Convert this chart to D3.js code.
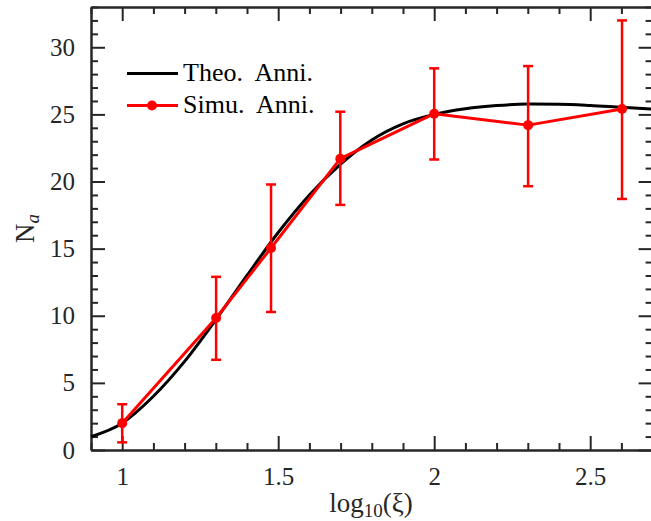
<!DOCTYPE html>
<html>
<head>
<meta charset="utf-8">
<script src="https://cdn.jsdelivr.net/npm/d3@7"></script>
<style>
  html, body { margin: 0; padding: 0; background: #fff; }
  svg { display: block; }
</style>
</head>
<body>
<svg id="chart" width="651" height="521"></svg>
<script>
// Theoretical annihilation count, sampled every 0.1 in log10(xi)
const theoX = [0.9, 1.0, 1.1, 1.2, 1.3, 1.4, 1.5, 1.6, 1.7, 1.8, 1.9, 2.0, 2.1, 2.2, 2.3, 2.4, 2.5, 2.6, 2.7];
const theoY = [1.0, 2.0, 4.0, 6.6, 9.7, 13.0, 16.2, 19.0, 21.3, 23.1, 24.3, 25.0, 25.42, 25.66, 25.77, 25.76, 25.67, 25.53, 25.4];

// Simulated annihilation count with error bars
const simX = [1.0, 1.301, 1.477, 1.699, 2.0, 2.301, 2.602];
const simY = [2.0, 9.83, 15.05, 21.7, 25.05, 24.2, 25.4];
const simLow = [0.57, 6.72, 10.28, 18.26, 21.64, 19.65, 18.7];
const simHigh = [3.41, 12.9, 19.78, 25.2, 28.43, 28.6, 32.0];

const xTicks = [1, 1.5, 2, 2.5];
const xTickLabels = ["1", "1.5", "2", "2.5"];
const yTicks = [0, 5, 10, 15, 20, 25, 30];
const legendLabels = ["Theo.  Anni.", "Simu.  Anni."];

const axisColor = "#262626";
const serif = "'Liberation Serif', 'Times New Roman', serif";
const plotL = 91, plotR = 652.6, plotT = 7, plotB = 450;

const svg = d3.select("#chart");
const x = d3.scaleLinear().domain([0.9, 2.7]).range([plotL, plotR]);
const y = d3.scaleLinear().domain([0, 33]).range([plotB, plotT]);

const xMinor = d3.range(9, 28).map(v => v / 10).filter(v => !xTicks.some(t => Math.abs(t - v) < 1e-9));
const yMinor = d3.range(0, 34).filter(v => v % 5 !== 0);

// axes with inward ticks (major + minor) on all four sides
function styleAxis(g) {
  g.attr("font-family", serif);
  g.select(".domain").attr("stroke", axisColor).attr("stroke-width", 2);
  g.selectAll(".tick line").attr("stroke", axisColor).attr("stroke-width", 2);
  g.selectAll("text").attr("font-size", 25).attr("fill", axisColor).attr("font-family", serif);
}

// bottom
svg.append("g").attr("transform", `translate(0,${plotB})`)
  .call(d3.axisBottom(x).tickValues(xTicks).tickSizeInner(-14).tickSizeOuter(0)
    .tickFormat((d, i) => xTickLabels[i]).tickPadding(17))
  .call(styleAxis);
svg.append("g").attr("transform", `translate(0,${plotB})`)
  .call(d3.axisBottom(x).tickValues(xMinor).tickSizeInner(-7).tickSizeOuter(0).tickFormat(""))
  .call(styleAxis);
// top
svg.append("g").attr("transform", `translate(0,${plotT})`)
  .call(d3.axisTop(x).tickValues(xTicks).tickSizeInner(-14).tickSizeOuter(0).tickFormat(""))
  .call(styleAxis);
svg.append("g").attr("transform", `translate(0,${plotT})`)
  .call(d3.axisTop(x).tickValues(xMinor).tickSizeInner(-7).tickSizeOuter(0).tickFormat(""))
  .call(styleAxis);
// left
svg.append("g").attr("transform", `translate(${plotL},0)`)
  .call(d3.axisLeft(y).tickValues(yTicks).tickSizeInner(-14).tickSizeOuter(0).tickPadding(16))
  .call(styleAxis);
svg.append("g").attr("transform", `translate(${plotL},0)`)
  .call(d3.axisLeft(y).tickValues(yMinor).tickSizeInner(-7).tickSizeOuter(0).tickFormat(""))
  .call(styleAxis);
// right
svg.append("g").attr("transform", `translate(${plotR},0)`)
  .call(d3.axisRight(y).tickValues(yTicks).tickSizeInner(-14).tickSizeOuter(0).tickFormat(""))
  .call(styleAxis);
svg.append("g").attr("transform", `translate(${plotR},0)`)
  .call(d3.axisRight(y).tickValues(yMinor).tickSizeInner(-7).tickSizeOuter(0).tickFormat(""))
  .call(styleAxis);

// axis titles
const xt = svg.append("text").attr("x", (plotL + 651) / 2).attr("y", 512)
  .attr("text-anchor", "middle").attr("font-size", 27)
  .attr("font-family", serif).attr("fill", axisColor);
xt.append("tspan").text("log");
xt.append("tspan").attr("font-size", 19).attr("dy", 5).text("10");
xt.append("tspan").attr("dy", -5).text("(ξ)");

const yt = svg.append("text").attr("transform", `translate(34,${(plotT + plotB) / 2}) rotate(-90)`)
  .attr("text-anchor", "middle").attr("font-size", 27)
  .attr("font-family", serif).attr("fill", axisColor);
yt.append("tspan").text("N");
yt.append("tspan").attr("font-size", 19).attr("font-style", "italic").attr("dy", 5).text("a");

// theoretical curve
const theo = theoX.map((v, i) => [v, theoY[i]]);
svg.append("path").datum(theo)
  .attr("fill", "none").attr("stroke", "#000").attr("stroke-width", 3)
  .attr("stroke-linejoin", "round")
  .attr("d", d3.line().x(d => x(d[0])).y(d => y(d[1])).curve(d3.curveMonotoneX));

// simulated series: error bars, line, markers
const red = "#ff0000";
const sim = simX.map((v, i) => ({ x: v, y: simY[i], lo: simLow[i], hi: simHigh[i] }));
const eb = svg.append("g").attr("stroke", red).attr("stroke-width", 2.5);
eb.selectAll(".v").data(sim).join("line")
  .attr("x1", d => x(d.x)).attr("x2", d => x(d.x))
  .attr("y1", d => y(d.lo)).attr("y2", d => y(d.hi));
eb.selectAll(".t").data(sim).join("line")
  .attr("x1", d => x(d.x) - 5).attr("x2", d => x(d.x) + 5)
  .attr("y1", d => y(d.hi)).attr("y2", d => y(d.hi));
eb.selectAll(".b").data(sim).join("line")
  .attr("x1", d => x(d.x) - 5).attr("x2", d => x(d.x) + 5)
  .attr("y1", d => y(d.lo)).attr("y2", d => y(d.lo));

svg.append("path").datum(sim)
  .attr("fill", "none").attr("stroke", red).attr("stroke-width", 3)
  .attr("stroke-linejoin", "round")
  .attr("d", d3.line().x(d => x(d.x)).y(d => y(d.y)));
svg.append("g").selectAll("circle").data(sim).join("circle")
  .attr("cx", d => x(d.x)).attr("cy", d => y(d.y)).attr("r", 5).attr("fill", red);

// legend
const lg = svg.append("g");
lg.append("line").attr("x1", 127).attr("x2", 178).attr("y1", 73.5).attr("y2", 73.5)
  .attr("stroke", "#000").attr("stroke-width", 3);
lg.append("line").attr("x1", 127).attr("x2", 178).attr("y1", 105.5).attr("y2", 105.5)
  .attr("stroke", red).attr("stroke-width", 3);
lg.append("circle").attr("cx", 152).attr("cy", 105.5).attr("r", 5).attr("fill", red);
lg.selectAll("text").data(legendLabels).join("text")
  .attr("x", 183).attr("y", (d, i) => 81 + i * 32)
  .attr("font-size", 26).attr("fill", "#000").attr("font-family", serif)
  .style("white-space", "pre").attr("xml:space", "preserve")
  .text(d => d);
</script>
</body>
</html>
